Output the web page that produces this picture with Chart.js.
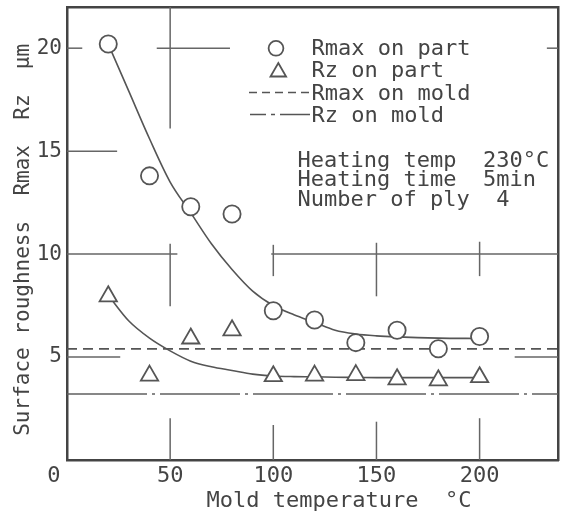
<!DOCTYPE html>
<html><head><meta charset="utf-8">
<script src="https://cdn.jsdelivr.net/npm/chart.js@4.4.0/dist/chart.umd.min.js"></script>
<style>html,body{margin:0;padding:0;background:#fff;overflow:hidden;} #wrap{width:563px;height:516px;position:relative;}</style>
</head><body><div id="wrap"><canvas id="c" width="563" height="516"></canvas></div>
<script>
// ---- data ----
const moldTemps  = [20, 40, 60, 80, 100, 120, 140, 160, 180, 200];
const rmaxOnPart = [20.2, 13.8, 12.3, 11.95, 7.25, 6.8, 5.7, 6.3, 5.4, 6.0];
const rzOnPart   = [7.95, 4.1, 5.9, 6.3, 4.07, 4.1, 4.12, 3.92, 3.87, 4.02];
const fitTemps   = [20, 30, 40, 50, 60, 70, 80, 90, 100, 110, 120, 130, 140, 150, 160, 180, 200];
const rmaxFit    = [20.2, 17.9, 15.6, 13.5, 12.0, 10.5, 9.25, 8.2, 7.5, 7.05, 6.68, 6.3, 6.12, 6.03, 5.98, 5.92, 5.9];
const rzFit      = [8.0, 6.75, 5.92, 5.3, 4.8, 4.53, 4.35, 4.17, 4.08, 4.05, 4.04, 4.02, 4.01, 4.0, 4.0, 4.0, 4.0];
const rmaxOnMold = 5.4;
const rzOnMold   = 3.2;
const xTicks = [0, 50, 100, 150, 200];
const yTicks = [5, 10, 15, 20];
const xRange = [0, 238];
const yRange = [0, 22];
// partial grid segments in data units: [x1, y1, x2, y2]
const gridSegments = [
  [50, 16.1, 50, 22], [50, 7.47, 50, 10.5], [50, 0, 50, 2.03],
  [100, 8.93, 100, 10.45], [100, 0, 100, 1.7],
  [150, 7.95, 150, 10.55], [150, 0, 150, 1.86],
  [200, 8.93, 200, 10.6], [200, 0, 200, 2.03],
  [0, 20, 7.4, 20], [43.5, 20, 79, 20], [232.6, 20, 238, 20],
  [0, 15, 24.3, 15],
  [0, 10, 53.5, 10], [99, 10, 238, 10],
  [0, 5, 25.8, 5], [217, 5, 238, 5]
];
const legendLabels   = ['Rmax on part', 'Rz on part', 'Rmax on mold', 'Rz on mold'];
const conditionLines = ['Heating temp  230°C', 'Heating time  5min', 'Number of ply  4'];
const xTitle = 'Mold temperature  °C';
const yTitle = 'Surface roughness  Rmax  Rz  μm';

// ---- styles ----
const INK = '#444444';
const LINE = '#555555';
const FONT = '"DejaVu Sans Mono", monospace';

const pts = (xs, ys) => xs.map((x, i) => ({x, y: ys[i]}));
const hline = (v) => [{x: xRange[0], y: v}, {x: xRange[1], y: v}];

const datasets = [
  {label: legendLabels[0], data: pts(moldTemps, rmaxOnPart), showLine: false, pointStyle: 'circle',
   pointRadius: 8.6, borderWidth: 1.8, borderColor: LINE, backgroundColor: '#fff', order: 0},
  {label: legendLabels[1], data: pts(moldTemps, rzOnPart), showLine: false, pointStyle: 'triangle',
   pointRadius: 10, borderWidth: 1.8, borderColor: LINE, backgroundColor: '#fff', order: 0},
  {label: 'Rmax fit', data: pts(fitTemps, rmaxFit), showLine: true, pointRadius: 0, borderWidth: 1.6,
   borderColor: LINE, tension: 0.4, cubicInterpolationMode: 'monotone', order: 1},
  {label: 'Rz fit', data: pts(fitTemps, rzFit), showLine: true, pointRadius: 0, borderWidth: 1.6,
   borderColor: LINE, tension: 0.4, cubicInterpolationMode: 'monotone', order: 1},
  {label: legendLabels[2], data: hline(rmaxOnMold), showLine: true, pointRadius: 0, borderWidth: 1.8,
   borderColor: LINE, borderDash: [10, 6], order: 2},
  {label: legendLabels[3], data: hline(rzOnMold), showLine: true, pointRadius: 0, borderWidth: 1.5,
   borderColor: '#606060', borderDash: [80, 5, 3, 5], order: 2}
];
gridSegments.forEach((s) => datasets.push({
  label: 'grid', data: [{x: s[0], y: s[1]}, {x: s[2], y: s[3]}], showLine: true, pointRadius: 0,
  borderWidth: 1.5, borderColor: '#666666', order: 3
}));

const annotations = {
  id: 'annotations',
  afterDraw(chart) {
    const ctx = chart.ctx;
    ctx.save();
    ctx.fillStyle = INK;
    ctx.font = '22px ' + FONT;
    ctx.textAlign = 'left';
    ctx.textBaseline = 'alphabetic';
    const rows = [55, 77.3, 99.5, 121.5];
    legendLabels.forEach((t, i) => ctx.fillText(t, 311.5, rows[i]));
    ctx.strokeStyle = LINE;
    ctx.lineWidth = 1.8;
    ctx.beginPath(); ctx.arc(276, 48.3, 7.4, 0, Math.PI * 2); ctx.stroke();
    const tx = 278.3, ty = 72, tr = 9;
    ctx.beginPath();
    ctx.moveTo(tx, ty - tr);
    ctx.lineTo(tx + tr * 0.866, ty + tr * 0.5);
    ctx.lineTo(tx - tr * 0.866, ty + tr * 0.5);
    ctx.closePath(); ctx.stroke();
    ctx.lineWidth = 1.6;
    ctx.setLineDash([8, 5]);
    ctx.beginPath(); ctx.moveTo(249, 92.5); ctx.lineTo(310, 92.5); ctx.stroke();
    ctx.setLineDash([16, 5, 4, 5, 40]);
    ctx.beginPath(); ctx.moveTo(250, 114.5); ctx.lineTo(310, 114.5); ctx.stroke();
    ctx.setLineDash([]);
    const crow = [166.5, 186.2, 205.5];
    conditionLines.forEach((t, i) => ctx.fillText(t, 297.5, crow[i]));
    ctx.restore();
  }
};

const frame = {display: true, color: '#444444', width: 2.5};
const noPad = (axis) => { axis.paddingTop = 0; axis.paddingBottom = 0; axis.paddingLeft = 0; axis.paddingRight = 0; };

new Chart(document.getElementById('c'), {
  type: 'scatter',
  data: {datasets},
  options: {
    responsive: false,
    animation: false,
    devicePixelRatio: 1,
    layout: {autoPadding: false, padding: {left: 11, right: 5, top: 7, bottom: 2}},
    plugins: {legend: {display: false}, tooltip: {enabled: false}},
    elements: {line: {borderCapStyle: 'butt'}},
    scales: {
      x: {
        type: 'linear', position: 'bottom', min: xRange[0], max: xRange[1],
        afterBuildTicks: (axis) => { axis.ticks = xTicks.map((v) => ({value: v})); },
        afterFit: (axis) => { noPad(axis); axis.height = 54; },
        ticks: {color: INK, font: {family: FONT, size: 22}, padding: 3, maxRotation: 0,
                callback: (v) => (v === 0 ? '0  ' : String(v))},
        grid: {display: false, drawTicks: false},
        border: frame,
        title: {display: true, text: '    ' + xTitle, color: INK, font: {family: FONT, size: 22},
                padding: {top: 0, bottom: 0}}
      },
      y: {
        type: 'linear', position: 'left', min: yRange[0], max: yRange[1],
        afterBuildTicks: (axis) => { axis.ticks = yTicks.map((v) => ({value: v})); },
        afterFit: (axis) => { noPad(axis); axis.width = 56; },
        ticks: {color: INK, font: {family: FONT, size: 21}, padding: 5},
        grid: {display: false, drawTicks: false},
        border: frame,
        title: {display: true, text: yTitle + ' ', color: INK, font: {family: FONT, size: 21},
                padding: {top: 0, bottom: 0}}
      },
      x2: {type: 'linear', position: 'top', display: true, min: xRange[0], max: xRange[1],
           afterFit: (axis) => { noPad(axis); axis.height = 0; },
           ticks: {display: false}, grid: {display: false, drawTicks: false}, border: frame},
      y2: {type: 'linear', position: 'right', display: true, min: yRange[0], max: yRange[1],
           afterFit: (axis) => { noPad(axis); axis.width = 0; },
           ticks: {display: false}, grid: {display: false, drawTicks: false}, border: frame}
    }
  },
  plugins: [annotations]
});
</script>
</body></html>
